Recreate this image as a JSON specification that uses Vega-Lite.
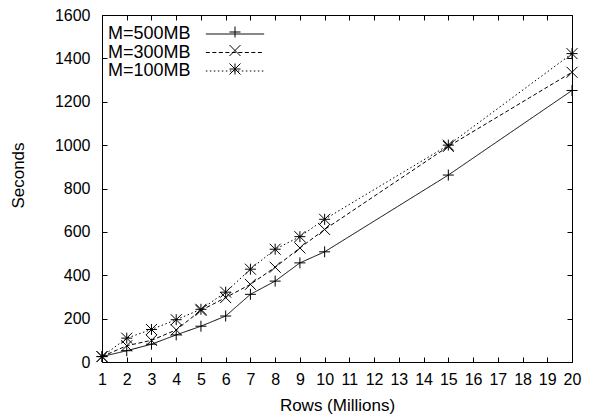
{
  "$schema": "https://vega.github.io/schema/vega-lite/v6.json",
  "width": 470,
  "height": 347,
  "autosize": {"type": "none"},
  "padding": {"left": 102, "top": 15, "right": 17, "bottom": 57},
  "background": "white",
  "config": {
    "font": "Liberation Sans",
    "view": {"stroke": "black", "strokeWidth": 1},
    "axis": {
      "grid": false,
      "domain": false,
      "tickColor": "black",
      "tickSize": -5,
      "tickWidth": 1,
      "labelFont": "Liberation Sans",
      "labelFontSize": 16,
      "labelColor": "black",
      "labelOverlap": false,
      "labelFlush": false,
      "labelBound": false,
      "titleFont": "Liberation Sans",
      "titleFontSize": 17,
      "titleFontWeight": "normal",
      "titleColor": "black"
    },
    "legend": {
      "labelFont": "Liberation Sans",
      "labelFontSize": 18,
      "labelColor": "black",
      "symbolSize": 121,
      "symbolStrokeWidth": 1,
      "symbolStrokeColor": "black",
      "symbolFillColor": "transparent",
      "symbolOffset": 118,
      "rowPadding": 0.5,
      "padding": 0
    }
  },
  "data": {
    "values": [
      {"series": "M=500MB", "rows": 1, "seconds": 25},
      {"series": "M=500MB", "rows": 2, "seconds": 52},
      {"series": "M=500MB", "rows": 3, "seconds": 82},
      {"series": "M=500MB", "rows": 4, "seconds": 125},
      {"series": "M=500MB", "rows": 5, "seconds": 165},
      {"series": "M=500MB", "rows": 6, "seconds": 212},
      {"series": "M=500MB", "rows": 7, "seconds": 312},
      {"series": "M=500MB", "rows": 8, "seconds": 373},
      {"series": "M=500MB", "rows": 9, "seconds": 457},
      {"series": "M=500MB", "rows": 10, "seconds": 508},
      {"series": "M=500MB", "rows": 15, "seconds": 862},
      {"series": "M=500MB", "rows": 20, "seconds": 1252},
      {"series": "M=300MB", "rows": 1, "seconds": 25},
      {"series": "M=300MB", "rows": 2, "seconds": 75},
      {"series": "M=300MB", "rows": 3, "seconds": 100},
      {"series": "M=300MB", "rows": 4, "seconds": 148},
      {"series": "M=300MB", "rows": 5, "seconds": 238},
      {"series": "M=300MB", "rows": 6, "seconds": 297},
      {"series": "M=300MB", "rows": 7, "seconds": 358},
      {"series": "M=300MB", "rows": 8, "seconds": 437},
      {"series": "M=300MB", "rows": 9, "seconds": 526},
      {"series": "M=300MB", "rows": 10, "seconds": 611},
      {"series": "M=300MB", "rows": 15, "seconds": 994},
      {"series": "M=300MB", "rows": 20, "seconds": 1336},
      {"series": "M=100MB", "rows": 1, "seconds": 25},
      {"series": "M=100MB", "rows": 2, "seconds": 110},
      {"series": "M=100MB", "rows": 3, "seconds": 150},
      {"series": "M=100MB", "rows": 4, "seconds": 195},
      {"series": "M=100MB", "rows": 5, "seconds": 243},
      {"series": "M=100MB", "rows": 6, "seconds": 322},
      {"series": "M=100MB", "rows": 7, "seconds": 428},
      {"series": "M=100MB", "rows": 8, "seconds": 520},
      {"series": "M=100MB", "rows": 9, "seconds": 578},
      {"series": "M=100MB", "rows": 10, "seconds": 658},
      {"series": "M=100MB", "rows": 15, "seconds": 1000},
      {"series": "M=100MB", "rows": 20, "seconds": 1422}
    ]
  },
  "resolve": {"axis": {"x": "independent", "y": "independent"}},
  "layer": [
    {
      "mark": {"type": "line", "color": "black", "strokeWidth": 1},
      "encoding": {
        "x": {
          "field": "rows", "type": "quantitative",
          "scale": {"domain": [1, 20], "nice": false, "zero": false},
          "axis": {
            "orient": "bottom",
            "values": [1,2,3,4,5,6,7,8,9,10,11,12,13,14,15,16,17,18,19,20],
            "format": "d",
            "labelPadding": 14,
            "title": "Rows (Millions)",
            "titleY": 43,
            "titleBaseline": "middle"
          }
        },
        "y": {
          "field": "seconds", "type": "quantitative",
          "scale": {"domain": [0, 1600], "nice": false},
          "axis": {
            "orient": "left",
            "values": [0,200,400,600,800,1000,1200,1400,1600],
            "format": "d",
            "labelPadding": 17,
            "title": "Seconds",
            "titleX": -84,
            "titleY": 160,
            "titleAngle": -90,
            "titleAlign": "center",
            "titleBaseline": "middle"
          }
        },
        "strokeDash": {
          "field": "series", "type": "nominal",
          "scale": {
            "domain": ["M=500MB", "M=300MB", "M=100MB"],
            "range": [[1, 0], [4, 2.5], [1.5, 2.5]]
          },
          "legend": {
            "title": null,
            "orient": "none",
            "legendX": 6,
            "legendY": 10,
            "symbolType": "M-5.3,0L5.3,0",
            "encode": {
              "labels": {"update": {"x": {"value": 0}}}
            }
          }
        }
      }
    },
    {
      "mark": {"type": "point", "filled": false, "stroke": "black", "strokeWidth": 1, "size": 121, "opacity": 1},
      "encoding": {
        "x": {
          "field": "rows", "type": "quantitative",
          "axis": {
            "orient": "top",
            "values": [1,2,3,4,5,6,7,8,9,10,11,12,13,14,15,16,17,18,19,20],
            "labels": false,
            "title": null
          }
        },
        "y": {
          "field": "seconds", "type": "quantitative",
          "axis": {
            "orient": "right",
            "values": [0,200,400,600,800,1000,1200,1400,1600],
            "labels": false,
            "title": null
          }
        },
        "shape": {
          "field": "series", "type": "nominal",
          "sort": ["M=500MB", "M=300MB", "M=100MB"],
          "scale": {
            "range": [
              "M-1,0L1,0M0,-1L0,1",
              "M-1,-1L1,1M-1,1L1,-1",
              "M-1,0L1,0M0,-1L0,1M-1,-1L1,1M-1,1L1,-1"
            ]
          },
          "legend": {
            "title": null,
            "orient": "none",
            "legendX": 6,
            "legendY": 8,
            "labelExpr": "''"
          }
        }
      }
    }
  ]
}
